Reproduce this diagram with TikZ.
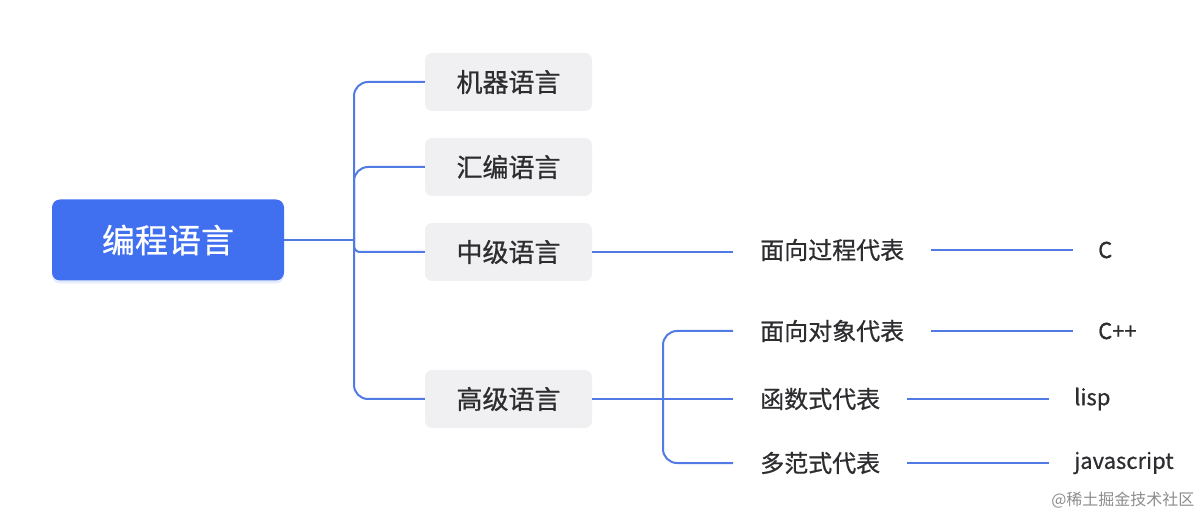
\documentclass[tikz,border=0pt]{standalone}
\usepackage{fontspec}
\setmainfont{Noto Sans CJK SC}[FakeBold=0.7]
\newfontfamily\markfont{Noto Sans CJK SC}
\usetikzlibrary{shadows}

\definecolor{rootblue}{RGB}{64,112,240}
\definecolor{linkblue}{RGB}{82,122,228}
\definecolor{boxgray}{RGB}{240,240,242}
\definecolor{textdark}{RGB}{45,45,48}

\begin{document}
\begin{tikzpicture}[x=1pt, y=-1pt,
    root/.style={rectangle, rounded corners=8pt, fill=rootblue, text=white,
        minimum width=232pt, minimum height=81pt, font=\fontsize{33}{36}\selectfont,
        drop shadow={shadow xshift=0pt, shadow yshift=-3pt, fill=rootblue!40, opacity=0.35}},
    level/.style={rectangle, rounded corners=7pt, fill=boxgray, text=textdark,
        minimum width=167pt, minimum height=58pt, font=\fontsize{26}{30}\selectfont},
    kind/.style={anchor=west, inner xsep=27pt, inner ysep=4pt, text=textdark,
        font=\fontsize{24}{28}\selectfont},
    lang/.style={anchor=west, inner xsep=25pt, inner ysep=4pt, text=textdark,
        font=\fontsize{22}{26}\selectfont},
    link/.style={draw=linkblue, line width=2pt, rounded corners=14pt}]
    \useasboundingbox (0,0) rectangle (1202,518);

    % Nodes {root, levels, kinds, langs}
    \node [root]  (prog)  at (168,240)   {编程语言};
    \node [level] (mach)  at (508.5,82)  {机器语言};
    \node [level] (asm)   at (508.5,167) {汇编语言};
    \node [level] (mid)   at (508.5,252) {中级语言};
    \node [level] (high)  at (508.5,399) {高级语言};

    \node [kind] (proc)  at (733,250) {面向过程代表};
    \node [kind] (obj)   at (733,331) {面向对象代表};
    \node [kind] (func)  at (733,399) {函数式代表};
    \node [kind] (multi) at (733,463) {多范式代表};

    \node [lang] (c)    at (1073,250) {C};
    \node [lang] (cpp)  at (1073,331) {C++};
    \node [lang] (lisp) at (1049,399) {lisp};
    \node [lang] (js)   at (1049,463) {javascript};

    \coordinate (fork)  at (354,240);
    \coordinate (hfork) at (663,399);

    \node [text=black!45, font=\markfont\fontsize{16}{18}\selectfont, anchor=east] (mark) at (1198,500) {@稀土掘金技术社区};

    % Paths
    \draw [link] (prog.east) -- (fork);
    \draw [link] (fork) |- (mach.west);
    \draw [link] (fork) |- (asm.west);
    \draw [link, rounded corners=6pt] (fork) |- (mid.west);
    \draw [link] (fork) |- (high.west);

    \draw [link] (mid.east) -- (proc.west |- mid.east);
    \draw [link] (high.east) -- (hfork);
    \draw [link] (hfork) |- (obj.west);
    \draw [link] (hfork) -- (func.west);
    \draw [link] (hfork) |- (multi.west);

    \draw [link] (proc) -- (c);
    \draw [link] (obj) -- (cpp);
    \draw [link] (func) -- (lisp);
    \draw [link] (multi) -- (js);
\end{tikzpicture}
\end{document}
